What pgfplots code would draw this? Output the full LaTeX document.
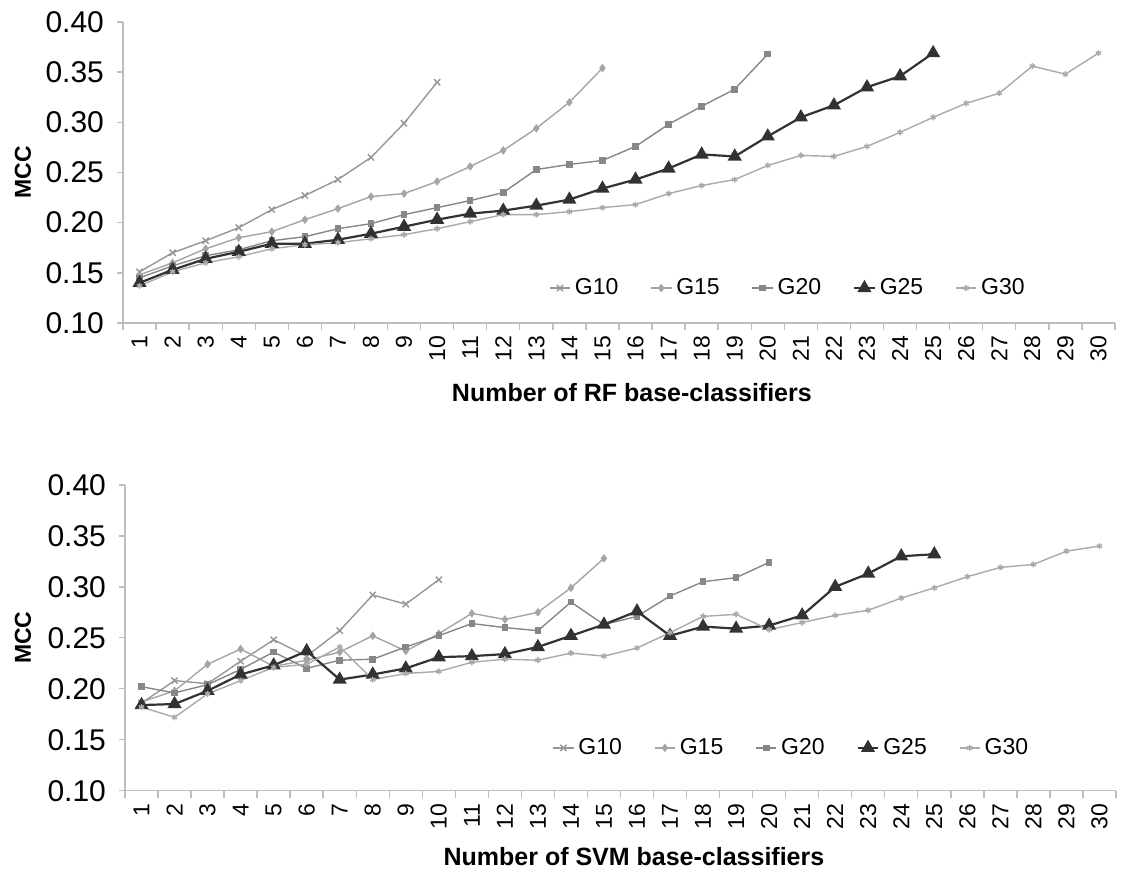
\documentclass[border=0pt]{standalone}
\usepackage{fontspec}
\setmainfont{Liberation Sans}
\usepackage{pgfplots}
\pgfplotsset{compat=1.18}
\definecolor{axgray}{RGB}{190,190,190}
\definecolor{cten}{RGB}{150,150,150}
\definecolor{cfif}{RGB}{165,165,165}
\definecolor{ctwe}{RGB}{135,135,135}
\definecolor{ctwf}{RGB}{50,50,50}
\definecolor{cthi}{RGB}{170,170,170}
\pgfplotsset{
  mccaxis/.style={
    scale only axis,
    xmin=0.5, xmax=30.5, ymin=0.10, ymax=0.40,
    axis x line*=bottom, axis y line*=left,
    axis line style={axgray, line width=0.7pt},
    every tick/.style={axgray, line width=0.7pt},
    tick align=outside,
    xtick={1,...,30},
    major x tick style={draw=none},
    minor xtick={0.5,1.5,...,30.5},
    minor tick length=3.5pt,
    major tick length=3pt,
    ytick={0.10,0.15,...,0.41},
    /pgf/number format/assume math mode=true,
    yticklabel={\pgfmathprintnumber[fixed,fixed zerofill,precision=2]{\tick}},
    yticklabel style={font=\fontsize{15}{18}\selectfont, xshift=-3pt},
    xticklabel style={font=\fontsize{11.5}{13}\selectfont, rotate=90, anchor=east},
    ylabel style={font=\bfseries\fontsize{11.5}{14}\selectfont, anchor=center},
    xlabel style={font=\bfseries\fontsize{12.5}{15}\selectfont, anchor=center},
    legend columns=5,
    legend style={draw=none, fill=none, font=\fontsize{11.5}{13}\selectfont,
      /tikz/every even column/.append style={column sep=14pt}},
    legend image code/.code={\draw[mark repeat=2,mark phase=2] plot coordinates {(0cm,0cm) (0.18cm,0cm) (0.36cm,0cm)};},
    legend cell align=left,
  },
  sten/.style={cten, line width=0.7pt, mark=x, mark size=2.2pt, mark options={solid}},
  sfif/.style={cfif, line width=0.7pt, mark=diamond*, mark size=1.6pt},
  stwe/.style={ctwe, line width=0.7pt, mark=square*, mark size=1.3pt},
  stwf/.style={ctwf, line width=1.1pt, mark=triangle*, mark size=3pt},
  sthi/.style={cthi, line width=0.7pt, mark=asterisk, mark size=1.5pt},
}
\begin{document}
\begin{tikzpicture}
\useasboundingbox (0,0) rectangle (560.5pt,439.5pt);
% ---------------- RF ----------------
\begin{axis}[mccaxis,
  at={(61.5pt,278pt)}, anchor=south west,
  width=496pt, height=150.5pt,
  ylabel={MCC}, ylabel style={at={(axis description cs:-0.1008,0.5)}},
  xlabel={Number of RF base-classifiers}, xlabel style={at={(axis description cs:0.513,-0.2326)}},
  legend style={at={(axis description cs:0.423,0.116)}, anchor=west},
]
\addplot[sten] coordinates {(1,0.151)(2,0.170)(3,0.182)(4,0.195)(5,0.213)(6,0.227)(7,0.243)(8,0.265)(9,0.299)(10,0.340)};
\addplot[sfif] coordinates {(1,0.148)(2,0.160)(3,0.174)(4,0.185)(5,0.191)(6,0.203)(7,0.214)(8,0.226)(9,0.229)(10,0.241)(11,0.256)(12,0.272)(13,0.294)(14,0.320)(15,0.354)};
\addplot[stwe] coordinates {(1,0.145)(2,0.157)(3,0.167)(4,0.173)(5,0.182)(6,0.186)(7,0.194)(8,0.199)(9,0.208)(10,0.215)(11,0.222)(12,0.230)(13,0.253)(14,0.258)(15,0.262)(16,0.276)(17,0.298)(18,0.316)(19,0.333)(20,0.368)};
\addplot[stwf] coordinates {(1,0.140)(2,0.153)(3,0.164)(4,0.171)(5,0.179)(6,0.179)(7,0.183)(8,0.189)(9,0.196)(10,0.203)(11,0.209)(12,0.212)(13,0.217)(14,0.223)(15,0.234)(16,0.243)(17,0.254)(18,0.268)(19,0.266)(20,0.286)(21,0.305)(22,0.317)(23,0.335)(24,0.346)(25,0.369)};
\addplot[sthi] coordinates {(1,0.137)(2,0.151)(3,0.160)(4,0.166)(5,0.174)(6,0.178)(7,0.180)(8,0.184)(9,0.188)(10,0.194)(11,0.201)(12,0.208)(13,0.208)(14,0.211)(15,0.215)(16,0.218)(17,0.229)(18,0.237)(19,0.243)(20,0.257)(21,0.267)(22,0.266)(23,0.276)(24,0.290)(25,0.305)(26,0.319)(27,0.329)(28,0.356)(29,0.348)(30,0.369)};
\legend{G10,G15,G20,G25,G30}
\end{axis}
% ---------------- SVM ----------------
\begin{axis}[mccaxis,
  at={(62.5pt,44.15pt)}, anchor=south west,
  width=495.5pt, height=152.9pt,
  ylabel={MCC}, ylabel style={at={(axis description cs:-0.103,0.5)}},
  xlabel={Number of SVM base-classifiers}, xlabel style={at={(axis description cs:0.5136,-0.217)}},
  legend style={at={(axis description cs:0.425,0.14)}, anchor=west},
]
\addplot[sten] coordinates {(1,0.186)(2,0.208)(3,0.205)(4,0.227)(5,0.248)(6,0.232)(7,0.257)(8,0.292)(9,0.283)(10,0.307)};
\addplot[sfif] coordinates {(1,0.187)(2,0.198)(3,0.224)(4,0.239)(5,0.222)(6,0.228)(7,0.236)(8,0.252)(9,0.237)(10,0.254)(11,0.274)(12,0.268)(13,0.275)(14,0.299)(15,0.328)};
\addplot[stwe] coordinates {(1,0.202)(2,0.196)(3,0.204)(4,0.219)(5,0.236)(6,0.220)(7,0.228)(8,0.229)(9,0.241)(10,0.252)(11,0.264)(12,0.260)(13,0.257)(14,0.285)(15,0.263)(16,0.271)(17,0.291)(18,0.305)(19,0.309)(20,0.324)};
\addplot[stwf] coordinates {(1,0.184)(2,0.185)(3,0.198)(4,0.214)(5,0.223)(6,0.237)(7,0.209)(8,0.214)(9,0.220)(10,0.231)(11,0.232)(12,0.234)(13,0.241)(14,0.252)(15,0.263)(16,0.276)(17,0.252)(18,0.261)(19,0.259)(20,0.262)(21,0.272)(22,0.300)(23,0.313)(24,0.330)(25,0.332)};
\addplot[sthi] coordinates {(1,0.182)(2,0.172)(3,0.195)(4,0.208)(5,0.221)(6,0.224)(7,0.241)(8,0.209)(9,0.215)(10,0.217)(11,0.226)(12,0.229)(13,0.228)(14,0.235)(15,0.232)(16,0.240)(17,0.255)(18,0.271)(19,0.273)(20,0.258)(21,0.265)(22,0.272)(23,0.277)(24,0.289)(25,0.299)(26,0.310)(27,0.319)(28,0.322)(29,0.335)(30,0.340)};
\legend{G10,G15,G20,G25,G30}
\end{axis}
\end{tikzpicture}
\end{document}
